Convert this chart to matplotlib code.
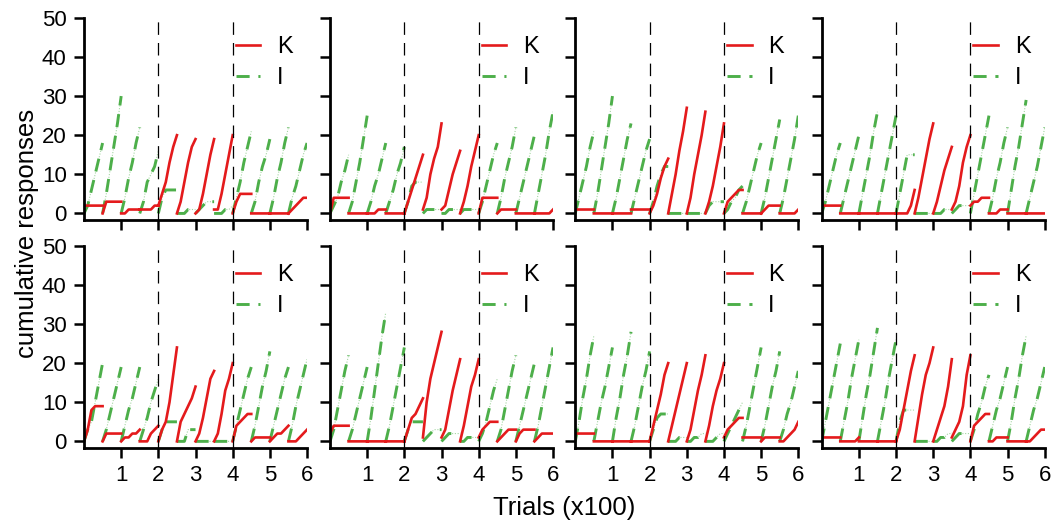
import numpy as np
import matplotlib.pyplot as plt

plt.rcParams['font.family'] = ['Liberation Sans', 'DejaVu Sans']

# cumulative response counts, reset every block of 50 trials,
# read every 10 trials (0,10,...,50) inside each block; 12 blocks per panel
block_trials = 50
sample_trials = [0, 10, 20, 30, 40, 50]

K1 = [[2,2,2,2,2,2],[0,3,3,3,3,3],[0,0,1,1,1,1],[1,1,1,1,2,2],[2,5,8,13,17,20],[0,3,8,13,17,19],
      [0,1,5,10,15,19],[1,1,5,10,15,20],[0,3,5,5,5,5],[0,0,0,0,0,0],[0,0,0,0,0,0],[0,1,2,3,4,4]]
I1 = [[0,2,6,10,14,18],[0,5,11,17,23,30],[0,4,9,13,18,22],[0,3,8,10,12,16],[0,4,6,6,6,6],[0,0,0,1,1,1],
      [0,1,2,3,3,3],[0,0,0,1,1,2],[0,4,8,13,17,21],[0,3,8,12,15,19],[0,4,9,13,18,22],[0,4,7,11,15,18]]

K2 = [[0,4,4,4,4,4],[0,0,0,0,0,0],[0,0,0,1,1,1],[0,0,0,0,0,0],[0,3,6,9,12,15],[1,4,10,14,17,23],
      [1,2,6,10,13,16],[0,3,7,12,16,20],[0,4,4,4,4,4],[0,1,1,1,1,1],[0,0,0,0,0,0],[0,0,0,0,0,1]]
I2 = [[0,2,4,8,11,15],[0,3,8,13,19,25],[0,3,7,10,14,18],[0,3,6,10,13,17],[0,3,7,8,8,8],[0,1,1,1,1,1],
      [0,0,1,1,1,1],[0,1,1,1,1,1],[0,3,7,11,15,18],[0,4,9,13,17,22],[0,4,8,12,16,20],[0,5,10,15,21,26]]

K3 = [[1,1,1,1,1,1],[0,0,0,0,0,0],[0,0,0,0,0,0],[1,1,1,1,1,1],[0,2,5,9,12,14],[0,5,10,16,21,27],
      [0,4,10,15,20,26],[0,3,7,12,17,23],[0,3,4,5,6,6],[0,0,0,0,0,0],[0,1,2,2,2,2],[0,0,0,0,0,1]]
I3 = [[0,4,8,12,17,21],[0,5,11,17,23,30],[0,4,9,14,19,23],[0,4,8,12,16,19],[0,3,7,10,12,12],[0,0,0,0,0,0],
      [0,0,0,0,0,0],[0,2,3,3,3,3],[0,1,3,4,6,7],[0,3,7,11,15,18],[0,4,9,14,19,24],[0,4,9,14,19,25]]

K4 = [[2,2,2,2,2,2],[0,0,0,0,0,0],[0,0,0,0,0,0],[0,0,0,0,0,0],[0,0,0,0,2,6],[0,4,9,14,19,23],
      [0,3,7,11,14,17],[1,3,7,13,17,20],[2,3,3,4,4,4],[0,0,0,1,1,1],[0,0,0,0,0,0],[0,0,0,0,0,0]]
I4 = [[0,3,7,11,15,18],[0,4,8,12,16,20],[0,5,10,15,21,26],[0,5,10,15,20,25],[0,5,10,15,15,15],[0,0,0,0,0,0],
      [0,0,0,1,1,1],[0,1,2,2,2,2],[0,5,10,15,20,25],[0,4,9,13,18,22],[0,6,12,17,23,29],[0,4,8,12,17,22]]

K5 = [[0,3,8,9,9,9],[0,2,2,2,2,2],[0,1,1,2,2,3],[0,0,0,2,3,4],[0,3,5,10,17,24],[0,5,7,9,11,14],
      [0,2,6,11,16,18],[0,2,7,13,16,20],[0,4,5,6,7,7],[0,1,1,1,1,1],[0,1,2,2,3,4],[0,0,0,1,2,3]]
I5 = [[0,3,5,10,15,20],[0,3,7,11,15,19],[0,4,8,11,15,19],[0,3,6,10,13,16],[0,3,5,5,5,5],[0,0,0,3,3,3],
      [0,0,0,0,0,0],[0,0,0,0,0,0],[0,4,8,12,16,19],[0,4,9,14,18,23],[0,4,8,12,16,19],[0,4,9,13,17,21]]

K6 = [[2,4,4,4,4,4],[0,0,0,0,0,0],[0,0,0,0,0,0],[0,0,0,0,0,0],[0,3,6,7,9,11],[1,10,16,20,24,28],
      [1,3,8,13,17,21],[0,4,9,14,17,21],[1,3,4,5,5,5],[0,1,2,3,3,3],[0,2,3,3,3,3],[0,1,2,2,2,2]]
I6 = [[0,3,8,13,18,22],[0,3,7,11,15,19],[0,6,13,20,27,33],[0,4,9,14,19,24],[0,3,5,5,5,5],[0,1,2,3,3,3],
      [0,1,2,2,2,2],[0,0,1,1,1,1],[0,2,5,9,13,16],[0,3,8,13,18,22],[0,4,8,12,16,20],[0,4,9,14,19,24]]

K7 = [[2,2,2,2,2,2],[0,0,0,0,0,0],[0,0,0,0,0,0],[0,0,0,0,0,0],[0,4,8,12,17,20],[0,4,8,12,16,20],
      [0,3,8,13,17,22],[0,4,9,13,16,20],[1,3,4,5,6,6],[1,1,1,1,1,1],[0,1,1,1,1,1],[0,0,1,2,3,5]]
I7 = [[0,5,11,16,22,27],[0,5,10,14,19,24],[0,6,11,17,22,28],[0,4,9,14,18,23],[0,3,6,7,7,7],[0,0,0,1,1,1],
      [0,0,1,1,2,2],[0,0,0,1,2,2],[0,2,4,6,8,10],[0,4,9,14,19,24],[0,4,9,14,18,23],[0,3,7,10,14,18]]

K8 = [[1,1,1,1,1,1],[0,0,0,0,0,1],[0,0,0,0,0,0],[0,0,0,0,0,0],[0,3,8,13,18,22],[0,6,12,17,20,24],
      [0,3,6,9,14,21],[1,3,5,9,17,22],[0,4,5,6,7,7],[0,0,1,1,1,1],[0,0,0,0,0,0],[0,0,1,2,3,3]]
I8 = [[0,5,10,15,20,25],[0,5,10,16,21,26],[0,6,12,17,23,29],[0,5,10,16,21,26],[0,5,8,8,8,8],[0,0,0,0,0,0],
      [0,0,1,1,2,2],[0,1,2,2,2,2],[0,3,7,10,14,17],[0,4,8,11,15,19],[0,5,11,16,22,27],[0,4,8,11,15,19]]

K_panels = [K1, K2, K3, K4, K5, K6, K7, K8]
I_panels = [I1, I2, I3, I4, I5, I6, I7, I8]
switch_points = [2, 4]
xticks = [1, 2, 3, 4, 5, 6]
yticks = [0, 10, 20, 30, 40, 50]

red = '#E41A1C'
green = '#4DAF4A'


def runs_to_xy(blocks):
    xs, ys = [], []
    for b, vals in enumerate(blocks):
        xs += [(b * block_trials + t) / 100 for t in sample_trials] + [np.nan]
        ys += list(vals) + [np.nan]
    return np.array(xs), np.array(ys)


fig = plt.figure(figsize=(10.54, 5.24), dpi=100)

lefts = [0.0797, 0.3131, 0.5458, 0.7796]
bottoms = [0.580, 0.145]
w, h = 0.2116, 0.386

for p in range(8):
    row, col = p // 4, p % 4
    ax = fig.add_axes([lefts[col], bottoms[row], w, h])

    xi, yi = runs_to_xy(I_panels[p])
    xk, yk = runs_to_xy(K_panels[p])
    ax.plot(xi, yi, color=green, lw=0.8, alpha=0.5, linestyle=(0, (1, 1.5)))
    ax.plot(xi, yi, color=green, lw=2.1, dashes=(4.5, 3), label='I')
    ax.plot(xk, yk, color=red, lw=1.9, label='K')

    for s in switch_points:
        ax.axvline(s, color='black', lw=0.9, dashes=(10, 6.5))

    ax.set_xlim(0, 6)
    ax.set_ylim(-1.7, 50)
    ax.spines['top'].set_visible(False)
    ax.spines['right'].set_visible(False)
    ax.spines['left'].set_linewidth(2.0)
    ax.spines['bottom'].set_linewidth(2.0)
    ax.set_xticks(xticks)
    ax.set_yticks(yticks)
    ax.tick_params(direction='out', length=7.5, width=1.8, labelsize=16, pad=5)
    if row == 0:
        ax.set_xticklabels([])
    if col != 0:
        ax.set_yticklabels([])

    handles, labels = ax.get_legend_handles_labels()
    order = [labels.index('K'), labels.index('I')]
    ax.legend([handles[i] for i in order], [labels[i] for i in order],
              loc='upper left', bbox_to_anchor=(0.68, 0.91), frameon=False,
              fontsize=17, handlelength=1.05, handletextpad=0.7,
              labelspacing=0.4, borderpad=0, borderaxespad=0)

fig.text(27 / 1054, 1 - 233 / 524, 'cumulative responses', rotation=90,
         ha='center', va='center', fontsize=18.5)
fig.text(564 / 1054, 1 - 508 / 524, 'Trials (x100)', ha='center', va='center', fontsize=18.5)

fig.savefig('out.png', dpi=100)
